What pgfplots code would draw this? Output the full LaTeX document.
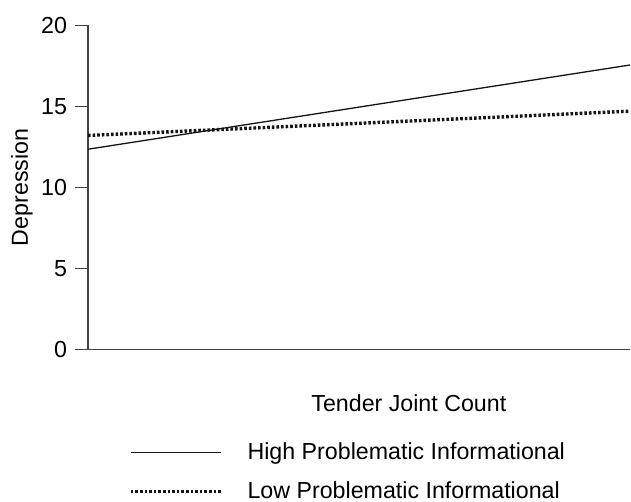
\documentclass[border=0pt]{standalone}
\usepackage{fontspec}
\setmainfont{Liberation Sans}
\usepackage{pgfplots}
\pgfplotsset{compat=1.18}
\definecolor{ink}{HTML}{141414}
\definecolor{axisgray}{HTML}{404040}
\newcommand{\bigfont}{\fontsize{23.3}{27}\selectfont}
\begin{document}
\bigfont
\begin{tikzpicture}
\useasboundingbox (-88bp,-152.7bp) rectangle (543bp,349.3bp);
\begin{axis}[
  at={(0,0)}, anchor=origin,
  scale only axis,
  width=542bp, height=324bp,
  xmin=0, xmax=1, ymin=0, ymax=20,
  axis lines=left,
  axis line style={-, draw=axisgray, line width=1.2bp},
  xtick=\empty,
  ytick={0,5,10,15,20},
  tick align=outside,
  major tick length=13bp,
  ytick style={draw=axisgray, line width=1.1bp},
  /pgf/number format/assume math mode=true,
  tick label style={font=\bigfont},
  yticklabel style={xshift=0bp},
  ylabel={Depression},
  ylabel style={at={(axis description cs:-0.1218,0.5)}, anchor=center, font=\bigfont},
  xlabel={Tender Joint Count},
  xlabel style={at={(axis description cs:0.592,-0.1926)}, anchor=base, font=\bigfont},
  legend cell align=left,
  legend style={at={(axis description cs:0.0756,-0.2861)}, anchor=north west, draw=none, fill=none,
    font=\bigfont, row sep=19bp, inner sep=0pt, nodes={inner sep=0pt}},
  legend image code/.code={\draw[#1] (0bp,0bp) -- (90bp,0bp);},
  clip=false,
]
\addplot[ink, line width=1.3bp] coordinates {(0,12.35) (1,17.55)};
\addlegendentry{\hspace{25bp}High Problematic Informational}
\addplot[ink, line width=3.4bp, dash pattern=on 2.6bp off 2bp] coordinates {(0,13.2) (1,14.7)};
\addlegendentry{\hspace{25bp}Low Problematic Informational}
\end{axis}
\end{tikzpicture}
\end{document}
